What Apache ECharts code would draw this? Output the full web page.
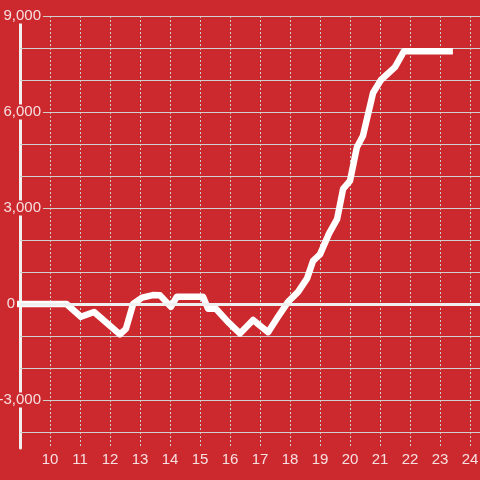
<!DOCTYPE html>
<html>
<head>
<meta charset="utf-8">
<script src="https://cdn.jsdelivr.net/npm/echarts@6/dist/echarts.min.js"></script>
<style>
html,body{margin:0;padding:0;background:#cc292e;}
#c{width:480px;height:480px;}
</style>
</head>
<body>
<div id="c"></div>
<script>
// Data (hour of day, value)
var hours = [8.9, 10.55, 11.03, 11.47, 12.33, 12.53, 12.77, 13.07, 13.43, 13.67, 14.03, 14.23, 15.1, 15.27, 15.53, 15.93, 16.33, 16.77, 17.27, 17.6, 17.93, 18.27, 18.57, 18.77, 19.0, 19.3, 19.57, 19.77, 20.0, 20.23, 20.43, 20.77, 21.03, 21.5, 21.8, 23.43];
var values = [0, 0, -400, -250, -950, -780, 0, 200, 280, 270, -90, 230, 230, -150, -150, -560, -920, -500, -880, -400, 60, 380, 800, 1350, 1550, 2200, 2650, 3600, 3850, 4900, 5250, 6600, 7000, 7400, 7900, 7900];
var yLabelValues = [-3000, 0, 3000, 6000, 9000];
var xTickLabels = [10, 11, 12, 13, 14, 15, 16, 17, 18, 19, 20, 21, 22, 23, 24];

var RED = '#cc292e';
var GRID = '#cfcfcf';
var LABEL = 'rgba(255,255,255,0.85)';

var seriesData = hours.map(function (h, i) { return [h, values[i]]; });

var chart = echarts.init(document.getElementById('c'), null, {renderer: 'canvas'});
chart.setOption({
  backgroundColor: RED,
  animation: false,
  grid: [
    {left: 20, right: 0, top: 16, bottom: 48, containLabel: false, outerBoundsMode: 'none'},
    {left: 20, width: 10, top: 16, bottom: 32, containLabel: false, outerBoundsMode: 'none'}
  ],
  xAxis: [
    {
      type: 'value', gridIndex: 0,
      min: 9, max: 9 + 460 / 30, interval: 1,
      axisLine: {show: false, onZero: false},
      axisTick: {show: true, length: 16, lineStyle: {color: GRID, type: [2, 2], width: 1}},
      splitLine: {show: true, lineStyle: {color: GRID, type: [2, 2], width: 1}},
      axisLabel: {
        show: true, margin: 20, color: LABEL, fontSize: 15,
        fontFamily: 'Liberation Sans, Arial, sans-serif',
        showMinLabel: false, showMaxLabel: false,
        formatter: function (v) { return xTickLabels.indexOf(v) >= 0 ? String(v) : ''; }
      }
    },
    {type: 'value', gridIndex: 1, min: 0, max: 1, show: false}
  ],
  yAxis: [
    {
      type: 'value', gridIndex: 0,
      min: -4000, max: 9000, interval: 1000,
      axisLine: {show: false},
      axisTick: {show: false},
      splitLine: {show: true, lineStyle: {color: GRID, width: 1}},
      axisLabel: {
        show: true, margin: -23, color: LABEL, fontSize: 15,
        fontFamily: 'Liberation Sans, Arial, sans-serif',
        formatter: function (v) {
          if (yLabelValues.indexOf(v) < 0) return '';
          if (v === 0) return '{z|0}{s|}';
          return '{a|' + v.toLocaleString('en-US') + '}';
        },
        rich: {
          a: {backgroundColor: RED, padding: [0, 2, 0, 2], lineHeight: 13, fontSize: 15, color: LABEL, fontFamily: 'Liberation Sans, Arial, sans-serif'},
          z: {backgroundColor: RED, padding: [0, 1, 0, 1], lineHeight: 13, fontSize: 15, color: LABEL, fontFamily: 'Liberation Sans, Arial, sans-serif'},
          s: {width: 27, lineHeight: 13}
        }
      },
      z: 3
    },
    {
      type: 'value', gridIndex: 1, min: 0, max: 1,
      axisLine: {show: true, lineStyle: {color: '#f0f0f0', width: 3}},
      axisTick: {show: false}, axisLabel: {show: false}, splitLine: {show: false},
      z: 1
    }
  ],
  series: [
    {
      type: 'line', xAxisIndex: 0, yAxisIndex: 0,
      data: seriesData,
      showSymbol: false, symbol: 'none', clip: false,
      lineStyle: {color: '#ffffff', width: 6.5, join: 'round', cap: 'butt'},
      emphasis: {disabled: true},
      markLine: {
        silent: true, symbol: 'none', label: {show: false},
        lineStyle: {color: '#f0f0f0', width: 3, type: 'solid'},
        data: [{yAxis: 0}]
      },
      z: 4
    }
  ]
});
</script>
</body>
</html>
